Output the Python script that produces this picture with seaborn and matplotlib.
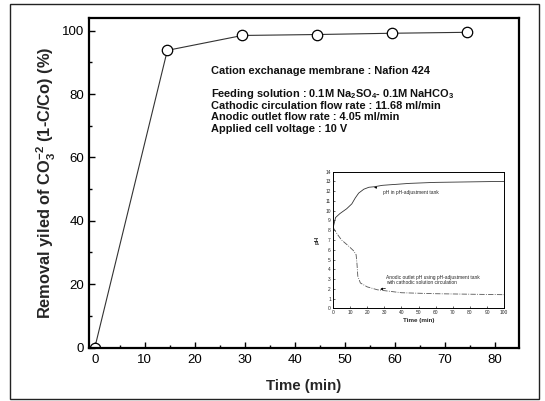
import matplotlib
matplotlib.use("Agg")
import matplotlib.pyplot as plt
import seaborn as sns
import numpy as np
from matplotlib.patches import Rectangle
from matplotlib.ticker import MultipleLocator

# ---- data ----
time_min = [0, 14.5, 29.5, 44.5, 59.5, 74.5]
removal_pct = [0, 93.8, 98.5, 98.8, 99.2, 99.5]

inset_t_tank = [0, 1.5, 4, 8, 11, 13, 15, 18, 21, 24, 29, 37, 45, 60, 80, 100]
inset_ph_tank = [8.2, 9.3, 9.7, 10.2, 10.7, 11.3, 11.8, 12.2, 12.4, 12.45, 12.6, 12.7, 12.8, 12.9, 12.95, 13.0]
inset_t_anode = [0, 2.5, 5, 9, 12, 13.5, 14, 14.5, 16, 20, 26, 33, 40, 60, 80, 100]
inset_ph_anode = [8.3, 7.6, 7.0, 6.4, 5.9, 5.5, 4.6, 3.3, 2.6, 2.2, 1.9, 1.75, 1.6, 1.5, 1.45, 1.4]

info_lines = [
    "Cation exchanage membrane : Nafion 424",
    "Feeding solution : 0.1M Na$_2$SO$_4$- 0.1M NaHCO$_3$",
    "Cathodic circulation flow rate : 11.68 ml/min",
    "Anodic outlet flow rate : 4.05 ml/min",
    "Applied cell voltage : 10 V",
]
info_y = [87.4, 80.0, 76.3, 72.9, 69.0]

sns.set_theme(style="ticks")
plt.rcParams['font.family'] = ['Liberation Sans', 'DejaVu Sans']
plt.rcParams['mathtext.fontset'] = 'custom'
plt.rcParams['mathtext.rm'] = 'Liberation Sans:bold'
plt.rcParams['mathtext.bf'] = 'Liberation Sans:bold'
plt.rcParams['mathtext.default'] = 'bf'

fig = plt.figure(figsize=(5.45, 4.01), dpi=100)
fig.patch.set_facecolor('white')

# outer frame
fig.add_artist(Rectangle((10/545, 1 - 399/401), 529/545, 395/401, transform=fig.transFigure,
                         fill=False, edgecolor='#222222', linewidth=1.0))

ax = fig.add_axes([0.163, 0.1334, 0.789, 0.8216])
sns.lineplot(x=time_min, y=removal_pct, ax=ax, color='#333333', linewidth=0.8,
             marker='o', markersize=7.5, markerfacecolor='white', markeredgecolor='black',
             markeredgewidth=0.9)
sns.scatterplot(x=time_min, y=removal_pct, ax=ax, color='black', s=1.5, linewidth=0)

ax.set_xlim(-1.2, 84.8)
ax.set_ylim(0, 104)
ax.xaxis.set_major_locator(MultipleLocator(10))
ax.xaxis.set_minor_locator(MultipleLocator(5))
ax.yaxis.set_major_locator(MultipleLocator(20))
ax.yaxis.set_minor_locator(MultipleLocator(10))
ax.tick_params(which='both', direction='in', colors='black', labelsize=9.5, width=1.0)
ax.tick_params(which='major', length=4)
ax.tick_params(which='minor', length=2.5)
ax.tick_params(axis='both', which='both', top=False, right=False)
ax.tick_params(axis='x', pad=5)
for s in ax.spines.values():
    s.set_visible(True)
    s.set_linewidth(1.6)
    s.set_color('black')

ax.set_xlabel("Time (min)", fontsize=10.8, fontweight='bold', labelpad=9)
ax.set_ylabel(r"Removal yiled of CO$_3^{-2}$ (1-C/Co) (%)", fontsize=11.8, fontweight='bold', labelpad=3)

for txt, yy in zip(info_lines, info_y):
    ax.text(23.3, yy, txt, fontsize=7.9, fontweight='bold', va='center', ha='left', color='#111111')

# inset
ax_in = fig.add_axes([0.611, 0.231, 0.314, 0.341])
sns.lineplot(x=inset_t_tank, y=inset_ph_tank, ax=ax_in, color='#333333', linewidth=0.6, sort=False)
sns.lineplot(x=inset_t_anode, y=inset_ph_anode, ax=ax_in, color='#555555', linewidth=0.6,
             linestyle='-.', sort=False)
ax_in.set_xlim(0, 100)
ax_in.set_ylim(0, 14)
ax_in.xaxis.set_major_locator(MultipleLocator(10))
ax_in.yaxis.set_major_locator(MultipleLocator(1))
ax_in.tick_params(which='both', direction='in', labelsize=3.5, length=1.5, width=0.5, pad=1.5)
for s in ax_in.spines.values():
    s.set_linewidth(0.7)
    s.set_color('black')
ax_in.set_xlabel("Time (min)", fontsize=4.5, fontweight='bold', labelpad=1.5)
ax_in.set_ylabel("pH", fontsize=4.5, fontweight='bold', labelpad=4)

ax_in.annotate("pH in pH-adjustment tank", xy=(24, 12.4), xytext=(29, 11.9),
               fontsize=3.5, va='center', ha='left',
               arrowprops=dict(arrowstyle='-|>', color='black', lw=0.5, mutation_scale=3))
ax_in.annotate("Anodic outlet pH using pH-adjustment tank\nwith cathodic solution circulation",
               xy=(26, 1.9), xytext=(31, 2.95),
               fontsize=3.5, va='center', ha='left', linespacing=1.0,
               arrowprops=dict(arrowstyle='-|>', color='black', lw=0.5, mutation_scale=3))

fig.savefig("out.png", dpi=100, facecolor='white')
